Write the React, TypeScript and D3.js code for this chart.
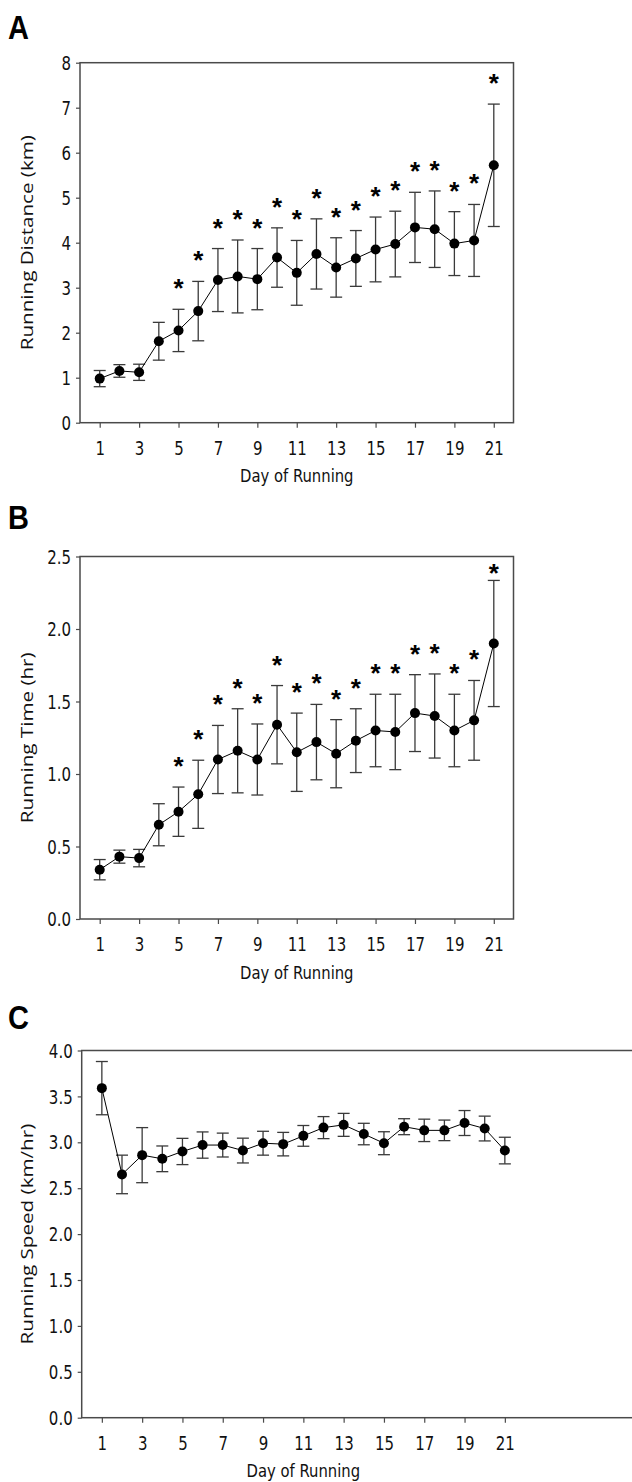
import * as d3 from 'd3';
import { useEffect, useRef } from 'react';

// days of running (x axis)
const days = [1, 2, 3, 4, 5, 6, 7, 8, 9, 10, 11, 12, 13, 14, 15, 16, 17, 18, 19, 20, 21];
const dayTicks = [1, 3, 5, 7, 9, 11, 13, 15, 17, 19, 21];

// Panel A - running distance (km)
const distMean = [0.98, 1.15, 1.12, 1.81, 2.05, 2.48, 3.17, 3.25, 3.19, 3.67, 3.33, 3.75, 3.45, 3.65, 3.85, 3.97, 4.34, 4.30, 3.98, 4.05, 5.72];
const distErr = [0.18, 0.14, 0.18, 0.42, 0.47, 0.66, 0.70, 0.81, 0.68, 0.66, 0.72, 0.78, 0.66, 0.62, 0.72, 0.73, 0.78, 0.85, 0.71, 0.80, 1.36];
const distSig = [5, 6, 7, 8, 9, 10, 11, 12, 13, 14, 15, 16, 17, 18, 19, 20, 21];
const distTicks = [0, 1, 2, 3, 4, 5, 6, 7, 8];

// Panel B - running time (hr)
const timeMean = [0.34, 0.43, 0.42, 0.65, 0.74, 0.86, 1.10, 1.16, 1.10, 1.34, 1.15, 1.22, 1.14, 1.23, 1.30, 1.29, 1.42, 1.40, 1.30, 1.37, 1.90];
const timeErr = [0.07, 0.045, 0.06, 0.145, 0.17, 0.235, 0.235, 0.29, 0.245, 0.27, 0.27, 0.26, 0.235, 0.22, 0.25, 0.26, 0.265, 0.29, 0.25, 0.275, 0.435];
const timeSig = [5, 6, 7, 8, 9, 10, 11, 12, 13, 14, 15, 16, 17, 18, 19, 20, 21];
const timeTicks = [0, 0.5, 1.0, 1.5, 2.0, 2.5];

// Panel C - running speed (km/hr)
const speedMean = [3.59, 2.65, 2.86, 2.82, 2.90, 2.97, 2.97, 2.91, 2.99, 2.98, 3.07, 3.16, 3.19, 3.09, 2.99, 3.17, 3.13, 3.13, 3.21, 3.15, 2.91];
const speedErr = [0.29, 0.21, 0.30, 0.14, 0.143, 0.143, 0.13, 0.135, 0.13, 0.128, 0.113, 0.12, 0.125, 0.117, 0.125, 0.087, 0.122, 0.112, 0.136, 0.135, 0.145];
const speedSig: number[] = [];
const speedTicks = [0, 0.5, 1.0, 1.5, 2.0, 2.5, 3.0, 3.5, 4.0];

const FONT = "'DejaVu Sans', Verdana, sans-serif";
const STRETCH = 1.25; // the figure is slightly stretched vertically

export default function App() {
  const svgRef = useRef(null);

  useEffect(() => {
    const svg = d3.select(svgRef.current);
    svg.selectAll("*").remove();

    const panels = [
      { letter: "A", letterY: 39, mean: distMean, err: distErr, sig: distSig, ticks: distTicks, fmt: d3.format("d"),
        yDomain: [0, 8], top: 62.7, bottom: 422.7, left: 80, right: 513.5, frameRight: 513.5, title: "Running Distance (km)" },
      { letter: "B", letterY: 529, mean: timeMean, err: timeErr, sig: timeSig, ticks: timeTicks, fmt: d3.format(".1f"),
        yDomain: [0, 2.5], top: 556.5, bottom: 919, left: 80, right: 513.5, frameRight: 513.5, title: "Running Time (hr)" },
      { letter: "C", letterY: 1029, mean: speedMean, err: speedErr, sig: speedSig, ticks: speedTicks, fmt: d3.format(".1f"),
        yDomain: [0, 4], top: 1050.5, bottom: 1417.7, left: 81.7, right: 525, frameRight: 660, title: "Running Speed (km/hr)" },
    ];

    panels.forEach(p => {
      const x = d3.scaleLinear([0, 22], [p.left, p.right]);
      const y = d3.scaleLinear(p.yDomain, [p.bottom, p.top]);
      const g = svg.append("g");

      // panel letter
      g.append("text")
        .attr("transform", `translate(8,${p.letterY}) scale(1,1.15)`)
        .attr("font-family", "'Liberation Sans', Arial, sans-serif")
        .attr("font-weight", "bold")
        .attr("font-size", 29)
        .attr("fill", "#000")
        .text(p.letter);

      // frame
      g.append("rect")
        .attr("x", p.left)
        .attr("y", p.top)
        .attr("width", p.frameRight - p.left)
        .attr("height", p.bottom - p.top)
        .attr("fill", "none")
        .attr("stroke", "#4a4a4a")
        .attr("stroke-width", 1.5);

      // y axis
      g.append("g")
        .attr("transform", `translate(${p.left},0)`)
        .call(d3.axisLeft(y).tickValues(p.ticks).tickFormat(p.fmt).tickSize(4).tickSizeOuter(0))
        .call(a => a.select(".domain").remove())
        .call(a => a.selectAll(".tick line").attr("stroke", "#4a4a4a").attr("stroke-width", 1.2))
        .call(a => a.selectAll(".tick text")
          .attr("x", null).attr("dy", null)
          .attr("dominant-baseline", "central")
          .attr("transform", `translate(-9,0) scale(1,${STRETCH})`)
          .attr("font-family", FONT)
          .attr("font-size", 15)
          .attr("fill", "#111"));

      // x axis
      g.append("g")
        .attr("transform", `translate(0,${p.bottom})`)
        .call(d3.axisBottom(x).tickValues(dayTicks).tickFormat(d3.format("d")).tickSize(5).tickSizeOuter(0))
        .call(a => a.select(".domain").remove())
        .call(a => a.selectAll(".tick line").attr("stroke", "#4a4a4a").attr("stroke-width", 1.2))
        .call(a => a.selectAll(".tick text")
          .attr("y", null).attr("dy", null)
          .attr("dominant-baseline", "central")
          .attr("transform", `translate(0,25.5) scale(1,${STRETCH})`)
          .attr("font-family", FONT)
          .attr("font-size", 15)
          .attr("fill", "#111"));

      // axis titles
      g.append("text")
        .attr("transform", `translate(${x(11)},${p.bottom + 53}) scale(1,${STRETCH})`)
        .attr("text-anchor", "middle")
        .attr("dominant-baseline", "central")
        .attr("font-family", FONT)
        .attr("font-size", 14.8)
        .attr("fill", "#111")
        .text("Day of Running");

      g.append("text")
        .attr("transform", `translate(26,${(p.top + p.bottom) / 2}) scale(1,${STRETCH}) rotate(-90)`)
        .attr("text-anchor", "middle")
        .attr("dominant-baseline", "central")
        .attr("font-family", "'Open Sans', 'Noto Sans', sans-serif")
        .attr("font-size", 16.5)
        .attr("fill", "#111")
        .text(p.title);

      const data = days.map((d, i) => ({ day: d, m: p.mean[i], e: p.err[i] }));

      // error bars
      const eb = g.append("g").attr("stroke", "#3a3a3a").attr("stroke-width", 1.3);
      eb.selectAll("line.v").data(data).join("line")
        .attr("x1", d => x(d.day)).attr("x2", d => x(d.day))
        .attr("y1", d => y(d.m - d.e)).attr("y2", d => y(d.m + d.e));
      eb.selectAll("line.t").data(data).join("line")
        .attr("x1", d => x(d.day) - 6).attr("x2", d => x(d.day) + 6)
        .attr("y1", d => y(d.m + d.e)).attr("y2", d => y(d.m + d.e));
      eb.selectAll("line.b").data(data).join("line")
        .attr("x1", d => x(d.day) - 6).attr("x2", d => x(d.day) + 6)
        .attr("y1", d => y(d.m - d.e)).attr("y2", d => y(d.m - d.e));

      // mean line
      const line = d3.line<any>().x(d => x(d.day)).y(d => y(d.m));
      g.append("path")
        .attr("fill", "none")
        .attr("stroke", "#000")
        .attr("stroke-width", 1)
        .attr("d", line(data));

      // points
      g.selectAll("circle").data(data).join("circle")
        .attr("cx", d => x(d.day))
        .attr("cy", d => y(d.m))
        .attr("r", 5)
        .attr("fill", "#000");

      // significance stars, kept inside the frame
      g.selectAll("text.star").data(data.filter(d => p.sig.includes(d.day))).join("text")
        .attr("class", "star")
        .attr("x", d => x(d.day))
        .attr("y", d => Math.max(y(d.m + d.e) - 27, p.top + 10) + 15)
        .attr("text-anchor", "middle")
        .attr("font-family", "'Liberation Sans', Arial, sans-serif")
        .attr("font-weight", "bold")
        .attr("font-size", 26)
        .attr("fill", "#000")
        .text("*");
    });
  }, []);

  return (
    <svg ref={svgRef} width={632} height={1482}
      style={{ position: "absolute", left: 0, top: 0, display: "block", background: "#fff" }} />
  );
}
